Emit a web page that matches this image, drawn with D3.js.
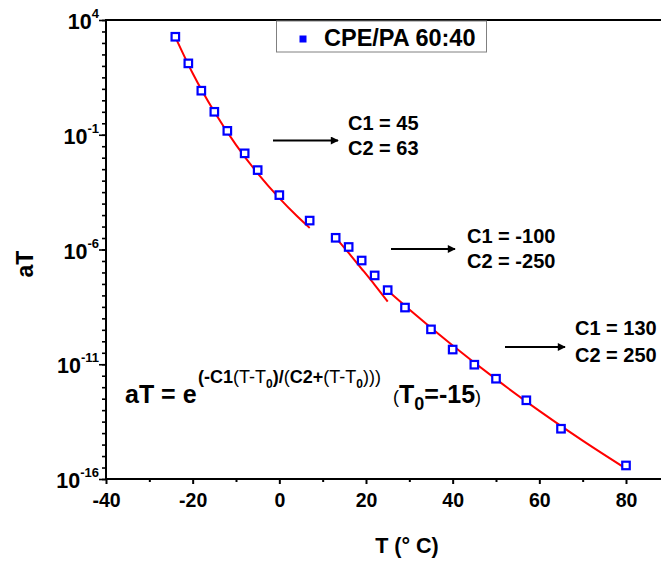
<!DOCTYPE html>
<html><head><meta charset="utf-8">
<script src="https://cdn.jsdelivr.net/npm/d3@7"></script>
<style>body{margin:0;background:#fff}svg{display:block;font-family:"Liberation Sans",Arial,sans-serif;font-weight:bold}</style>
</head><body><svg id="c" width="661" height="562"></svg>
<script>
// ---- data ----
const temps = [-24,-21,-18,-15,-12,-8,-5,0,7,13,16,19,22,25,29,35,40,45,50,57,65,80];
const logAT = [3.27,2.11,0.92,0.0,-0.83,-1.81,-2.54,-3.63,-4.74,-5.49,-5.89,-6.48,-7.13,-7.77,-8.53,-9.48,-10.36,-11.02,-11.63,-12.57,-13.81,-15.41];
// fit curves (sampled along the red lines)
const fit1T = [-24,-20,-15,-10,-5,0,4,7];
const fit1L = [3.26,1.68,0.0,-1.44,-2.68,-3.76,-4.53,-5.06];
const fit2T = [13,16,19,22,25];
const fit2L = [-5.48,-6.15,-6.84,-7.54,-8.27];
const fit3T = [25,30,40,50,60,70,80];
const fit3L = [-7.79,-8.61,-10.18,-11.65,-13.03,-14.33,-15.55];
const xTicks = [-40,-20,0,20,40,60,80];
const yTickExp = [4,-1,-6,-11,-16];
const legendLabel = "CPE/PA 60:40";
const annotations = [
  {l1:"C1 = 45", l2:"C2 = 63"},
  {l1:"C1 = -100", l2:"C2 = -250"},
  {l1:"C1 = 130", l2:"C2 = 250"}
];

const svg = d3.select("#c");
const L=106, T=20, B=479;
const x = d3.scaleLinear().domain([-40,90]).range([L, L+130*4.3333]);
const y = d3.scaleLog().domain([1e4,1e-16]).range([T,B]);
const P = e => Math.pow(10,e);

// top spine
svg.append("line").attr("x1",L).attr("x2",680).attr("y1",T).attr("y2",T).attr("stroke","#000").attr("stroke-width",2);

// x axis
const xg = svg.append("g").attr("transform",`translate(0,${B})`)
  .call(d3.axisBottom(x).tickValues(d3.range(-30,91,20)).tickSize(3).tickFormat(""));
const xg2 = svg.append("g").attr("transform",`translate(0,${B})`)
  .call(d3.axisBottom(x).tickValues(xTicks).tickSize(5).tickPadding(5).tickFormat(d=>String(d)));
[xg,xg2].forEach(g=>{g.select(".domain").attr("stroke-width",2).attr("d",`M${L},0H680`);g.selectAll(".tick line").attr("stroke-width",2);});
xg2.selectAll("text").attr("font-size",19.5).attr("font-family","Liberation Sans, Arial, sans-serif").attr("font-weight","bold").attr("fill","#000").attr("y",null).attr("dy",null).attr("transform","translate(0,28)");

// y axis: minor ticks every half decade, major every 5 decades
const minorVals = d3.range(-16,4.01,0.5).map(P);
const yg = svg.append("g").attr("transform",`translate(${L},0)`)
  .call(d3.axisLeft(y).tickValues(minorVals).tickSize(4).tickFormat(""));
const yg2 = svg.append("g").attr("transform",`translate(${L},0)`)
  .call(d3.axisLeft(y).tickValues(yTickExp.map(P)).tickSize(7).tickFormat(""));
[yg,yg2].forEach(g=>{g.select(".domain").attr("stroke-width",2).attr("d",`M0,${T-1}V${B+1}`);g.selectAll(".tick line").attr("stroke-width",1.6);});
yTickExp.forEach(e=>{
  const t = svg.append("text").attr("x",99).attr("y",y(P(e))+9).attr("text-anchor","end").attr("font-size",21.5);
  t.append("tspan").text("10");
  t.append("tspan").attr("font-size",13).attr("dy",-11).text(e);
});

// axis titles
svg.append("text").attr("x",407).attr("y",553).attr("text-anchor","middle").attr("font-size",21.5).text("T (° C)");
svg.append("text").attr("transform","translate(33,264) rotate(-90)").attr("text-anchor","middle").attr("font-size",23).text("aT");

// fit lines
const line = d3.line().x(d=>x(d[0])).y(d=>y(P(d[1]))).curve(d3.curveMonotoneX);
[[fit1T,fit1L],[fit2T,fit2L],[fit3T,fit3L]].forEach(([a,b])=>{
  svg.append("path").datum(a.map((t,i)=>[t,b[i]])).attr("d",line).attr("fill","none").attr("stroke","#ff0000").attr("stroke-width",2);
});

// points
svg.append("g").selectAll("rect").data(temps.map((t,i)=>[t,logAT[i]])).join("rect")
  .attr("x",d=>x(d[0])-3.75).attr("y",d=>y(P(d[1]))-3.75).attr("width",7.5).attr("height",7.5)
  .attr("fill","#fff").attr("stroke","#0000ff").attr("stroke-width",2.2);

// legend
svg.append("rect").attr("x",276.5).attr("y",21).attr("width",210).attr("height",31).attr("fill","#fff").attr("stroke","#808080").attr("stroke-width",1);
svg.append("rect").attr("x",299.5).attr("y",35.5).attr("width",7).attr("height",7).attr("fill","#0000ff");
svg.append("text").attr("x",324).attr("y",46).attr("font-size",23.5).text(legendLabel);

// arrows + annotation texts
const defs = svg.append("defs");
defs.append("marker").attr("id","ah").attr("viewBox","0 0 10 10").attr("refX",9).attr("refY",5)
  .attr("markerWidth",11).attr("markerHeight",8).attr("markerUnits","userSpaceOnUse").attr("orient","auto")
  .append("path").attr("d","M0,0L10,5L0,10Z").attr("fill","#000");
const arrowPos = [[273,338,140.5,348,130,155],[391,455,249,467,243,268],[505,565,347,575,335,362]];
annotations.forEach((a,i)=>{
  const [x1,x2,ay,tx,ty1,ty2]=arrowPos[i];
  svg.append("line").attr("x1",x1).attr("x2",x2).attr("y1",ay).attr("y2",ay).attr("stroke","#000").attr("stroke-width",2).attr("marker-end","url(#ah)");
  svg.append("text").attr("x",tx).attr("y",ty1).attr("font-size",20).text(a.l1);
  svg.append("text").attr("x",tx).attr("y",ty2).attr("font-size",20).text(a.l2);
});

// formula
const f = svg.append("text").attr("x",125).attr("y",403).attr("font-size",25).text("aT = e");
const sup = svg.append("text").attr("x",198).attr("y",383).attr("font-size",18);
sup.append("tspan").text("(-C1");
sup.append("tspan").attr("font-weight","normal").text("(T-T");
sup.append("tspan").attr("font-size",12).attr("dy",5).text("0");
sup.append("tspan").attr("dy",-5).text(")/");
sup.append("tspan").attr("font-weight","normal").text("(");
sup.append("tspan").text("C2+");
sup.append("tspan").attr("font-weight","normal").text("(T-T");
sup.append("tspan").attr("font-size",12).attr("dy",5).text("0");
sup.append("tspan").attr("dy",-5).attr("font-weight","normal").text(")))");
const t0 = svg.append("text").attr("x",393).attr("y",403).attr("font-size",25);
t0.append("tspan").attr("font-weight","normal").attr("font-size",18).text("(");
t0.append("tspan").text("T");
t0.append("tspan").attr("font-size",18).attr("dy",7).text("0");
t0.append("tspan").attr("dy",-7).text("=-15");
t0.append("tspan").attr("font-weight","normal").attr("font-size",18).text(")");
</script></body></html>
